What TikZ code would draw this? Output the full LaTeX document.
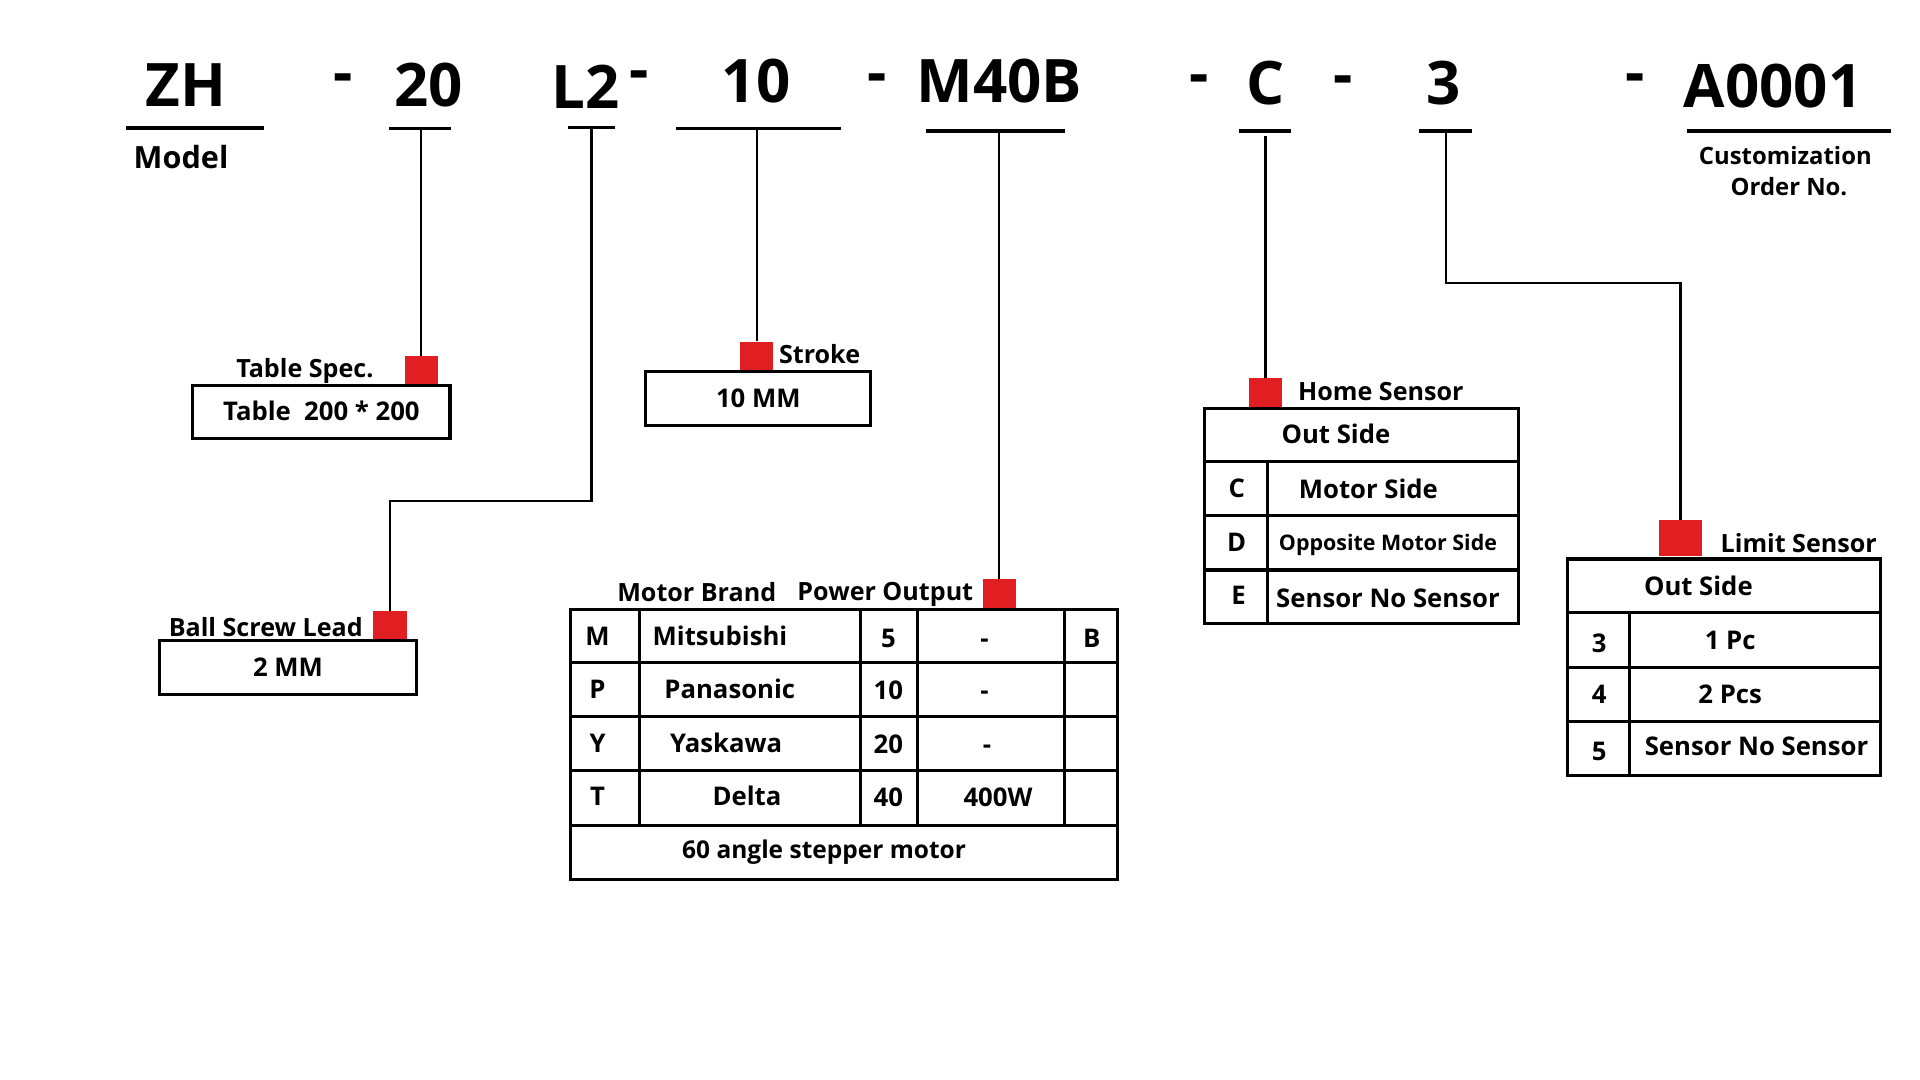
\documentclass[tikz,border=0pt]{standalone}
\usepackage{fontspec}
\setmainfont{Open Sans}
\usepackage{xcolor}
\definecolor{sqred}{HTML}{E11F22}
\newcommand\fs[1]{\fontsize{#1}{#1}\selectfont\bfseries}

\begin{document}
\begin{tikzpicture}[x=1pt, y=-1pt,
    code/.style={font=\fs{49}, anchor=base, inner sep=0},
    lbl/.style={font=\fs{20.5}, inner sep=0},
    cell/.style={font=\fs{21}, inner sep=0, text height=15pt, text depth=0pt},
    small/.style={font=\fs{17.5}, inner sep=0, text height=12.5pt, text depth=0pt},
    ul/.style={line width=2.6pt},
    wire/.style={line width=1.9pt},
    box/.style={draw, line width=2.5pt},
    sq/.style={fill=sqred, minimum width=27pt, minimum height=24pt, inner sep=0}]
    \useasboundingbox (0,0) rectangle (1568,882);
    % order code
    \node[code] (cZH) at (152,87) {ZH};
    \node[code] (c20) at (350,87) {20};
    \node[code] (cL2) at (478,89) {L2};
    \node[code] (c10) at (617.5,84) {10};
    \node[code] (cM) at (816,84) {M40B};
    \node[code] (cC) at (1033.5,85) {C};
    \node[code] (c3) at (1179,85) {3};
    \node[code] (cA) at (1448,88) {A0001};
    \foreach \x/\y [count=\i] in {280.5/76, 522/74, 716/76, 979/77, 1097/78, 1335.5/76.5}
        \node[code] (dash-\i) at (\x,\y) {-};
    \draw[ul] (103,104.5) -- (216,104.5);
    \draw[ul] (318,105) -- (368,105);
    \draw[ul] (464,104) -- (502,104);
    \draw[ul] (552,105) -- (687,105);
    \draw[ul] (756,107) -- (870,107);
    \draw[ul] (1012,107) -- (1054,107);
    \draw[ul] (1159,107) -- (1202,107);
    \draw[ul] (1378,107) -- (1544,107);
    \node[font=\fs{25}, anchor=base west, inner sep=0] (model) at (109,138) {Model};
    \node[font=\fs{19.5}, anchor=base, inner sep=0] (cust) at (1458,134) {Customization};
    \node[font=\fs{19.5}, anchor=base, inner sep=0] (ordno) at (1461,160) {Order No.};
    % red markers
    \node[sq] (s20) at (344,303) {};
    \node[sq] (s10) at (618,291) {};
    \node[sq] (sL) at (318.5,511) {};
    \node[sq] (sM) at (816,485) {};
    \node[sq] (sC) at (1033.5,320.5) {};
    \node[sq, minimum width=35pt, minimum height=29pt] (sLim) at (1372.5,439.5) {};
    % connectors
    \coordinate (u20) at (344,105);
    \coordinate (uL2) at (483,104);
    \coordinate (u10) at (618,105);
    \coordinate (uM) at (816,107);
    \coordinate (uC) at (1033.5,111);
    \coordinate (u3) at (1181,107);
    \draw[wire] (u20) -- (s20);
    \draw[wire] (uL2) -- ++(0,305) -| (sL);
    \draw[wire] (u10) -- (s10);
    \draw[wire] (uM) -- (sM);
    \draw[wire] (uC) -- (sC);
    \draw[wire] (u3) -- ++(0,124) -| (sLim);
    % labels
    \node[lbl, anchor=base] (tsl) at (249,308) {Table Spec.};
    \node[lbl, anchor=base west] (stl) at (636,297) {Stroke};
    \node[lbl, anchor=base] (bsl) at (217,520) {Ball Screw Lead};
    \node[lbl, anchor=base] (mbl) at (569,491) {Motor Brand};
    \node[lbl, anchor=base] (pol) at (723,490) {Power Output};
    \node[lbl, anchor=base west] (hsl) at (1060,327) {Home Sensor};
    \node[lbl, anchor=base west] (lsl) at (1405,451) {Limit Sensor};
    % single boxes
    \node[box, cell, minimum width=210pt, minimum height=43.5pt] (tsbox) at (262.5,336.25) {Table~~200 * 200};
    \node[box, cell, minimum width=183.5pt, minimum height=44pt] (stbox) at (619.25,325.5) {10 MM};
    \node[box, cell, minimum width=210.5pt, minimum height=44.5pt] (bsbox) at (235.25,545.25) {2 MM};
    % motor table
    \draw[box] (466,497.5) rectangle (912.5,718);
    \foreach \y in {541,585,629.5,674} \draw[box] (466,\y) -- (912.5,\y);
    \foreach \x in {522,702.5,749,869} \draw[box] (\x,497.5) -- (\x,674);
    \foreach \k/\name/\nx/\p/\w/\wx/\y [count=\i] in {M/Mitsubishi/588/5/-/804/520, P/Panasonic/596/10/-/804/563, Y/Yaskawa/593/20/-/806/607, T/Delta/610/40/400W/815/650}
    {
        \node[cell] (mk-\i) at (488,\y) {\k};
        \node[cell] (mn-\i) at (\nx,\y) {\name};
        \node[cell] (mp-\i) at (725.5,\y+1) {\p};
        \node[cell] (mw-\i) at (\wx,\y+1) {\w};
    }
    \node[cell] (mb-1) at (891.5,521) {B};
    \node[cell, font=\fs{20}] (mt) at (673,694) {60 angle stepper motor};
    % home sensor table
    \draw[box] (984,333.5) rectangle (1240,509.5);
    \foreach \y in {377,421,465.5} \draw[box] (984,\y) -- (1240,\y);
    \draw[box] (1035,377) -- (1035,509.5);
    \node[cell] (ho-0) at (1091,355) {Out Side};
    \node[cell] (ho-c) at (1010,399) {C};
    \node[cell] (hs-c) at (1117.5,399.5) {Motor Side};
    \node[cell] (ho-d) at (1010,443) {D};
    \node[small] (hs-d) at (1133.5,443) {Opposite Motor Side};
    \node[cell] (ho-e) at (1011.5,486) {E};
    \node[cell] (hs-e) at (1133.5,489) {Sensor No Sensor};
    % limit sensor table
    \draw[box] (1280,456.5) rectangle (1536,633);
    \foreach \y in {500.5,545,589} \draw[box] (1280,\y) -- (1536,\y);
    \draw[box] (1331,500.5) -- (1331,633);
    \node[cell] (li-0) at (1387,478.5) {Out Side};
    \foreach \k/\ky/\t/\tx/\ty [count=\i] in {3/525/1 Pc/1413/523, 4/567/2 Pcs/1413/567, 5/613.5/Sensor No Sensor/1434.5/609.5}
    {
        \node[cell] (lk-\i) at (1306,\ky) {\k};
        \node[cell] (lt-\i) at (\tx,\ty) {\t};
    }
\end{tikzpicture}
\end{document}
